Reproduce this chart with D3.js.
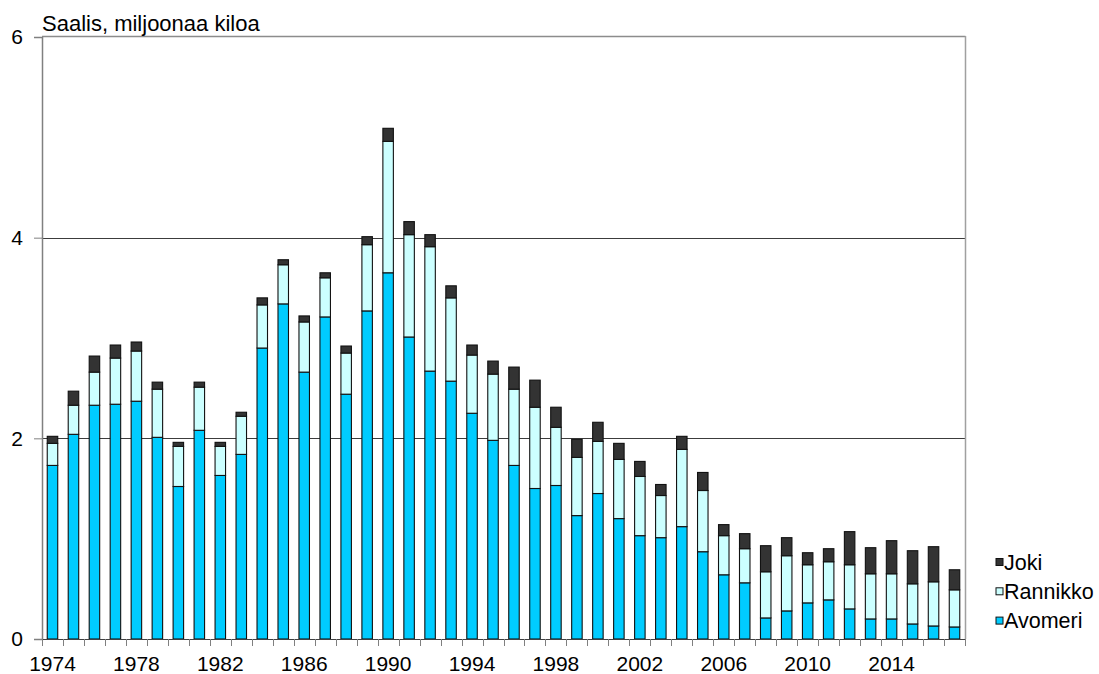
<!DOCTYPE html>
<html><head><meta charset="utf-8">
<script src="https://cdn.jsdelivr.net/npm/d3@7"></script>
<style>body{margin:0;background:#fff}svg{display:block;font-family:"Liberation Sans",Arial,sans-serif}</style>
</head><body><svg id="c" width="1099" height="674"></svg>
<script>
const years = [1974,1975,1976,1977,1978,1979,1980,1981,1982,1983,1984,1985,1986,1987,1988,1989,1990,1991,1992,1993,1994,1995,1996,1997,1998,1999,2000,2001,2002,2003,2004,2005,2006,2007,2008,2009,2010,2011,2012,2013,2014,2015,2016,2017];
const avomeri = [1.73,2.04,2.33,2.34,2.37,2.01,1.52,2.08,1.63,1.84,2.90,3.34,2.66,3.21,2.44,3.27,3.65,3.01,2.67,2.57,2.25,1.98,1.73,1.50,1.53,1.23,1.45,1.20,1.03,1.01,1.12,0.87,0.64,0.56,0.21,0.28,0.36,0.39,0.30,0.20,0.20,0.15,0.13,0.12];
const rannikko = [0.22,0.29,0.33,0.46,0.50,0.48,0.40,0.43,0.29,0.38,0.43,0.39,0.50,0.39,0.41,0.66,1.31,1.02,1.24,0.83,0.58,0.66,0.76,0.81,0.58,0.58,0.52,0.59,0.59,0.42,0.77,0.61,0.39,0.34,0.46,0.55,0.38,0.38,0.44,0.45,0.45,0.40,0.44,0.37];
const joki = [0.07,0.14,0.16,0.13,0.09,0.07,0.04,0.05,0.04,0.04,0.07,0.05,0.06,0.05,0.07,0.08,0.13,0.13,0.12,0.12,0.10,0.13,0.22,0.27,0.20,0.18,0.19,0.16,0.15,0.11,0.13,0.18,0.11,0.15,0.26,0.18,0.12,0.13,0.33,0.26,0.33,0.33,0.35,0.20];
const seriesNames = ["Avomeri","Rannikko","Joki"];
const seriesColors = ["#00ccff","#ccffff","#333333"];
const yTicks = [0,2,4,6];
const xLabelYears = [1974,1978,1982,1986,1990,1994,1998,2002,2006,2010,2014];
const title = "Saalis, miljoonaa kiloa";

const svg = d3.select("#c");
const L = 42, R = 965, T = 37, B = 639;
const x = d3.scaleBand().domain(years).range([L, R]).paddingInner(0.5).paddingOuter(0.25);
const y = d3.scaleLinear().domain([0, 6]).range([B, T]);

const rows = years.map((yr, i) => ({year: yr, Avomeri: avomeri[i], Rannikko: rannikko[i], Joki: joki[i]}));
const stacked = d3.stack().keys(seriesNames)(rows);

// gridlines
svg.append("g").selectAll("line").data([2,4]).join("line")
  .attr("x1", L).attr("x2", R).attr("y1", d => Math.round(y(d)) + 0.5).attr("y2", d => Math.round(y(d)) + 0.5)
  .attr("stroke", "#3c3c3c").attr("stroke-width", 1);
// top border
svg.append("line").attr("x1", L).attr("x2", R + 0.5).attr("y1", Math.round(y(6)) - 0.5).attr("y2", Math.round(y(6)) - 0.5)
  .attr("stroke", "#8c8c8c").attr("stroke-width", 1.5);
// right border
svg.append("line").attr("x1", R + 0.5).attr("x2", R + 0.5).attr("y1", y(6) - 1).attr("y2", B)
  .attr("stroke", "#a0a0a0").attr("stroke-width", 1.5);

// bars
svg.append("g").selectAll("g").data(stacked).join("g")
  .attr("fill", (d, i) => seriesColors[i])
  .selectAll("rect").data(d => d).join("rect")
  .attr("x", d => x(d.data.year))
  .attr("width", x.bandwidth())
  .attr("y", d => y(d[1]))
  .attr("height", d => y(d[0]) - y(d[1]))
  .attr("stroke", "#111").attr("stroke-width", 1.1);

// y axis
const yAxis = svg.append("g").attr("transform", `translate(${L},0)`)
  .call(d3.axisLeft(y).tickValues(yTicks).tickSize(8).tickPadding(11).tickFormat(d3.format("d")));
yAxis.select(".domain").attr("stroke", "#808080").attr("stroke-width", 1.5);
yAxis.selectAll(".tick line").attr("stroke", "#808080");
yAxis.selectAll("text").attr("font-size", 21).attr("fill", "#000").attr("font-family", "Liberation Sans, Arial, sans-serif");

// x baseline and ticks at band boundaries
svg.append("line").attr("x1", L).attr("x2", R + 1).attr("y1", B + 0.5).attr("y2", B + 0.5)
  .attr("stroke", "#404040").attr("stroke-width", 1);
const step = x.step();
const bounds = years.map(yr => x(yr) - (step - x.bandwidth()) / 2).concat([R]);
svg.append("g").selectAll("line").data(bounds).join("line")
  .attr("x1", d => Math.round(d) + 0.5).attr("x2", d => Math.round(d) + 0.5)
  .attr("y1", B).attr("y2", B + 7).attr("stroke", "#808080");

svg.append("g").selectAll("text").data(xLabelYears).join("text")
  .attr("x", d => x(d) + x.bandwidth() / 2).attr("y", 671)
  .attr("text-anchor", "middle").attr("font-size", 21).attr("fill", "#000")
  .text(d => d);

// title
svg.append("text").attr("x", 42).attr("y", 31).attr("font-size", 22).attr("fill", "#000").text(title);

// legend
const legendOrder = [2,1,0];
const lg = svg.append("g").selectAll("g").data(legendOrder).join("g")
  .attr("transform", (d, i) => `translate(996,${562 + i * 29.3})`);
lg.append("rect").attr("x", 0).attr("y", -3.5).attr("width", 7).attr("height", 7)
  .attr("fill", d => seriesColors[d]).attr("stroke", "#111").attr("stroke-width", 1);
lg.append("text").attr("x", 8).attr("y", 7.5).attr("font-size", 21.5).attr("fill", "#000")
  .text(d => seriesNames[d]);
</script></body></html>
